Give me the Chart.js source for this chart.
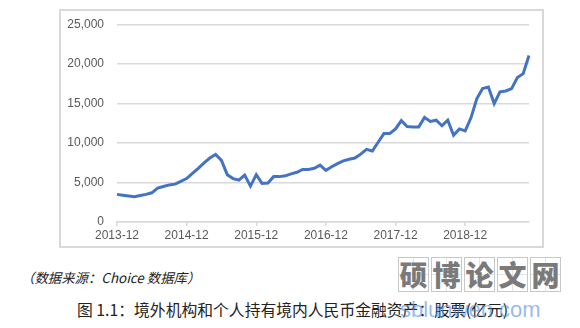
<!DOCTYPE html>
<html>
<head>
<meta charset="utf-8">
<script src="https://cdn.jsdelivr.net/npm/chart.js@4.4.0/dist/chart.umd.min.js"></script>
<style>
  html, body { margin: 0; padding: 0; background: #fff; width: 580px; height: 328px; overflow: hidden; }
  #frame { position: absolute; left: 59px; top: 9px; width: 481px; height: 235px; border: 2px solid #d9d9d9; }
  #frame canvas { display: block; }
  #source { position: absolute; left: 21px; top: 267px; font-family: "Noto Sans CJK SC", sans-serif; font-style: italic; font-size: 13.4px; color: #222; white-space: nowrap; }
  #caption { position: absolute; left: 77px; top: 298px; font-family: "Noto Sans CJK SC", sans-serif; font-size: 15.8px; color: #222; white-space: nowrap; }
  #wm { position: absolute; left: 398px; top: 257px; display: flex; gap: 2px; }
  #wm span { display: block; width: 31px; height: 35px; border: 1px solid #c8c8c8; box-sizing: border-box; font-family: "Noto Sans CJK SC", sans-serif; font-weight: 900; font-size: 28px; line-height: 33px; text-align: center; color: #7a7a7a;
    background-image: linear-gradient(#e4e4e4,#e4e4e4), linear-gradient(#e4e4e4,#e4e4e4); background-size: 1px 100%, 100% 1px; background-position: center, center; background-repeat: no-repeat; }
  #wmurl { position: absolute; left: 400px; top: 297px; font-family: "Liberation Sans", Arial, sans-serif; font-size: 22px; color: rgba(80,140,220,0.6); white-space: nowrap; }
</style>
</head>
<body>
<div id="frame"><canvas id="c" width="481" height="235"></canvas></div>
<div id="source">（数据来源：Choice 数据库）</div>
<div id="caption">图 1.1：境外机构和个人持有境内人民币金融资产：股票(亿元)</div>
<div id="wm"><span>硕</span><span>博</span><span>论</span><span>文</span><span>网</span></div>
<div id="wmurl">sblunwen.com</div>
<script>
// Months: 2013-12 .. 2019-11
const startYear = 2013, startMonth = 12, monthCount = 72;
const categories = [];
for (let k = 0; k < monthCount; k++) {
  const m = (startMonth - 1 + k) % 12 + 1;
  const y = startYear + Math.floor((startMonth - 1 + k) / 12);
  categories.push(y + '-' + String(m).padStart(2, '0'));
}
// Stock holdings (100 million yuan)
const stockValues = [
  3500, 3400, 3300, 3200, 3350, 3500, 3700, 4300, 4500, 4700,
  4800, 5150, 5500, 6150, 6800, 7500, 8100, 8550, 7800, 6000,
  5500, 5300, 5950, 4550, 6000, 4900, 4950, 5750, 5750, 5850,
  6100, 6300, 6650, 6650, 6800, 7200, 6550, 7000, 7400, 7750,
  7950, 8100, 8600, 9200, 9000, 10100, 11200, 11200, 11800, 12850,
  12100, 12050, 12050, 13250, 12750, 12900, 12200, 12900, 11000, 11800,
  11550, 13200, 15600, 16900, 17100, 15000, 16500, 16600, 16900, 18300,
  18800, 21100
];
const xTickLabels = ['2013-12', '2014-12', '2015-12', '2016-12', '2017-12', '2018-12'];
const yTicks = [0, 5000, 10000, 15000, 20000, 25000];

const gridColor = '#d9d9d9';
const textColor = '#595959';

new Chart(document.getElementById('c'), {
  type: 'line',
  data: {
    labels: categories,
    datasets: [{
      data: stockValues,
      borderColor: '#4472C4',
      borderWidth: 3,
      pointRadius: 0,
      tension: 0,
      fill: false
    }]
  },
  options: {
    responsive: false,
    animation: false,
    layout: { padding: { left: 6, right: 13, top: 1, bottom: 0 } },
    plugins: { legend: { display: false }, tooltip: { enabled: false } },
    scales: {
      x: {
        offset: false,
        grid: {
          drawOnChartArea: false,
          drawTicks: true,
          tickLength: 4,
          lineWidth: 1.5,
          color: (ctx) => (ctx.tick && xTickLabels.includes(categories[ctx.index])) ? gridColor : 'rgba(0,0,0,0)'
        },
        border: { display: true, color: gridColor, width: 1.5 },
        ticks: {
          autoSkip: false,
          maxRotation: 0,
          minRotation: 0,
          padding: 2,
          color: textColor,
          font: { family: '"Liberation Sans", Arial, sans-serif', size: 12 },
          callback: function (v, i) { return xTickLabels.includes(categories[i]) ? categories[i] : ''; }
        },
        afterFit: (s) => { s.height = 24; }
      },
      y: {
        min: yTicks[0],
        max: yTicks[yTicks.length - 1],
        afterBuildTicks: (s) => { s.ticks = yTicks.map(v => ({ value: v })); },
        grid: { drawTicks: true, tickLength: 6.5, tickColor: 'rgba(0,0,0,0)', color: gridColor, lineWidth: 1.5 },
        border: { display: false },
        ticks: {
          padding: 6.5,
          color: textColor,
          font: { family: '"Liberation Sans", Arial, sans-serif', size: 12 },
          callback: (v) => Number(v).toLocaleString('en-US')
        },
        afterFit: (s) => { s.width = 50; }
      }
    }
  }
});
</script>
</body>
</html>
